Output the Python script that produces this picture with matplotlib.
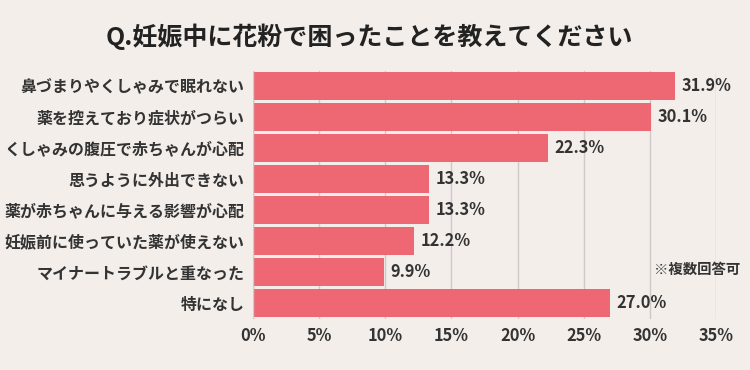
import matplotlib
matplotlib.use("Agg")
import matplotlib.pyplot as plt

plt.rcParams['font.family'] = ['Noto Sans CJK JP', 'DejaVu Sans']

# data
labels = ["鼻づまりやくしゃみで眠れない", "薬を控えており症状がつらい", "くしゃみの腹圧で赤ちゃんが心配",
          "思うように外出できない", "薬が赤ちゃんに与える影響が心配", "妊娠前に使っていた薬が使えない",
          "マイナートラブルと重なった", "特になし"]
values = [31.9, 30.1, 22.3, 13.3, 13.3, 12.2, 9.9, 27.0]
ticks = [0, 5, 10, 15, 20, 25, 30, 35]

bg = "#f3eeea"
bar_color = "#ed6873"
text_color = "#333333"

fig = plt.figure(figsize=(7.5, 3.7), dpi=100, facecolor=bg)
ax = fig.add_axes([0.3373, 0.139, 0.6174, 0.670])
ax.set_facecolor(bg)

y = list(range(len(labels)))
ax.barh(y, values, height=0.9, color=bar_color, zorder=3)
ax.set_ylim(len(labels) - 0.5, -0.5)
ax.set_xlim(0, 35)

ax.set_xticks(ticks)
ax.set_xticklabels([f"{t}%" for t in ticks], fontsize=11.8, fontweight='bold', color=text_color)
ax.set_yticks(y)
ax.set_yticklabels(labels, fontsize=11.5, fontweight='bold', color=text_color)
ax.tick_params(length=0, pad=6)
ax.tick_params(axis='x', pad=6)
ax.grid(axis='x', color='#cfcac7', linewidth=1, zorder=0)
for s in ax.spines.values():
    s.set_visible(False)
ax.axvline(0, color='#cfcac7', linewidth=1, zorder=4)

for yi, v in zip(y, values):
    ax.text(v + 0.5, yi, f"{v:.1f}%", va='center', ha='left', fontsize=11.8,
            fontweight='bold', color=text_color, zorder=5)

fig.text(0.987, 0.27, "※複数回答可", ha='right', va='center', fontsize=10.4,
         fontweight='bold', color=text_color)
fig.text(0.493, 0.90, "Q.妊娠中に花粉で困ったことを教えてください", ha='center', va='center',
         fontsize=18, fontweight='bold', color='#222222')

fig.savefig("out.png", dpi=100, facecolor=bg)
